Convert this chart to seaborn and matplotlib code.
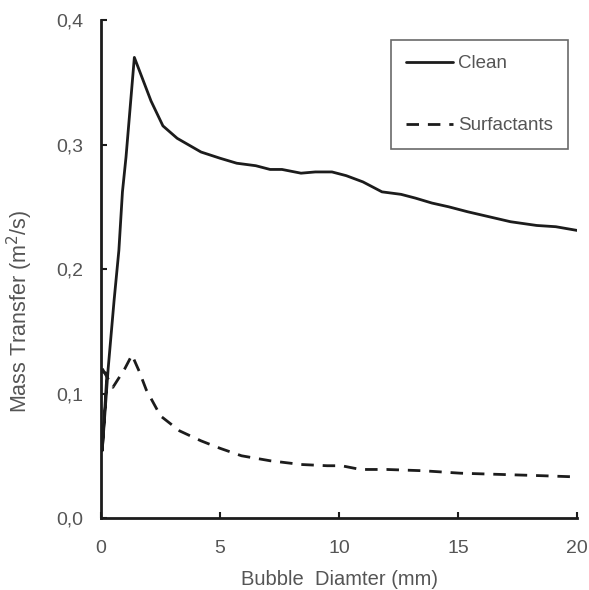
import numpy as np
import pandas as pd
import matplotlib
matplotlib.use("Agg")
import matplotlib.pyplot as plt
import seaborn as sns

# values (bubble diameter in mm, mass transfer in m2/s)
clean_x = [0.02, 0.25, 0.05, 0.3, 0.55, 0.75, 0.9, 1.05, 1.4, 1.7, 2.1, 2.6,
           3.2, 4.2, 5.0, 5.7, 6.5, 7.1, 7.6, 8.4, 9.0, 9.7, 10.3, 11.0,
           11.8, 12.6, 13.2, 13.9, 14.6, 15.4, 16.3, 17.2, 18.3, 19.1, 20.0]
clean_y = [0.118, 0.116, 0.054, 0.12, 0.175, 0.215, 0.262, 0.29, 0.37, 0.355,
           0.335, 0.315, 0.305, 0.294, 0.289, 0.285, 0.283, 0.280, 0.280, 0.277,
           0.278, 0.278, 0.275, 0.270, 0.262, 0.260, 0.257, 0.253, 0.250, 0.246,
           0.242, 0.238, 0.235, 0.234, 0.231]

surf_x = [0.05, 0.5, 1.0, 1.3, 1.6, 1.9, 2.5, 3.3, 4.2, 5.0, 5.9, 7.1, 8.4,
          9.5, 10.1, 10.9, 12.0, 13.5, 15.1, 16.8, 18.5, 20.0]
surf_y = [0.12, 0.105, 0.12, 0.131, 0.118, 0.103, 0.082, 0.070, 0.062, 0.056,
          0.050, 0.046, 0.043, 0.042, 0.042, 0.039, 0.039, 0.038, 0.036, 0.035,
          0.034, 0.033]

x_ticks = [0, 5, 10, 15, 20]
y_ticks = [0.0, 0.1, 0.2, 0.3, 0.4]
y_tick_labels = ["0,0", "0,1", "0,2", "0,3", "0,4"]

sns.set_style("ticks")
plt.rcParams['font.family'] = ['Liberation Sans', 'DejaVu Sans']

df = pd.concat([
    pd.DataFrame({'x': clean_x, 'y': clean_y, 'series': 'Clean'}),
    pd.DataFrame({'x': surf_x, 'y': surf_y, 'series': 'Surfactants'}),
], ignore_index=True)

fig = plt.figure(figsize=(5.89, 5.90), dpi=100)
ax = fig.add_axes([0.1715, 0.122, 0.8085, 0.844])

ink = '#1c1c1c'
sns.lineplot(data=df, x='x', y='y', style='series', sort=False,
             dashes={'Clean': '', 'Surfactants': (4.5, 3.2)},
             color=ink, linewidth=2.0, estimator=None, ax=ax)

ax.set_xlim(0, 20)
ax.set_ylim(0, 0.4)
ax.set_xticks(x_ticks)
ax.set_yticks(y_ticks)
ax.set_yticklabels(y_tick_labels)

text_col = '#555555'
ax.tick_params(direction='in', length=4, width=1.5, colors=ink,
               labelcolor=text_col, labelsize=14)
ax.tick_params(axis='x', pad=16)
ax.tick_params(axis='y', pad=13)
for s in ['left', 'bottom']:
    ax.spines[s].set_linewidth(2.0)
    ax.spines[s].set_color(ink)
sns.despine(ax=ax)

ax.set_xlabel('Bubble  Diamter (mm)', fontsize=14.5, color=text_col, labelpad=9)
ax.set_ylabel('Mass Transfer (m$^2$/s)', fontsize=15.5, color=text_col)
# the original y label sits a little below the middle of the axis
ax.yaxis.set_label_coords(-0.138, 0.416)

leg = ax.legend(loc='upper right', bbox_to_anchor=(0.981, 0.96), frameon=True,
                fancybox=False, edgecolor='#444444', fontsize=13.5,
                labelspacing=2.4, handlelength=2.5, handletextpad=0.3,
                borderpad=0.8, borderaxespad=0)
leg.get_frame().set_linewidth(1.2)
for t in leg.get_texts():
    t.set_color(text_col)
for h in leg.get_lines():
    h.set_linewidth(2.0)

fig.savefig('out.png', dpi=100)
